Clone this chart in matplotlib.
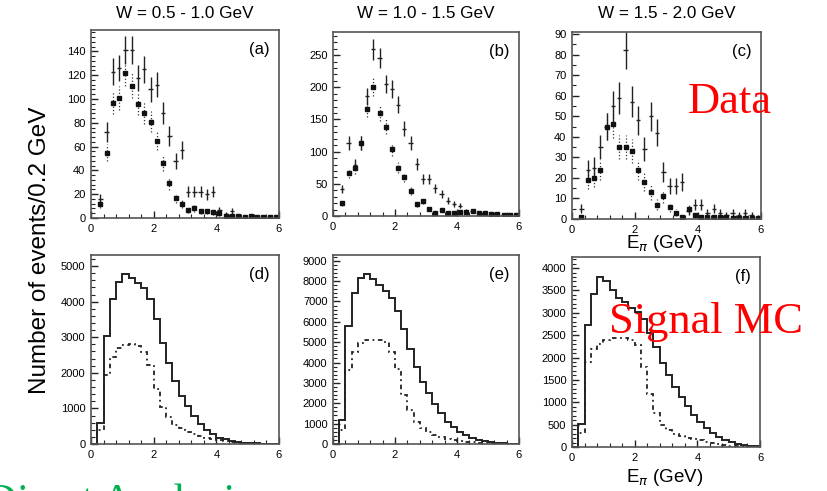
import numpy as np
import matplotlib
matplotlib.use("Agg")
import matplotlib.pyplot as plt
from matplotlib.ticker import MultipleLocator, AutoMinorLocator

plt.rcParams['font.family'] = ['Liberation Sans', 'DejaVu Sans']

# E_pi bin centres (data) and bin edges (MC), GeV
centers = np.arange(0.3, 6.0, 0.2)
edges = np.arange(0.0, 6.01, 0.2)

titles = ['W = 0.5 - 1.0 GeV', 'W = 1.0 - 1.5 GeV', 'W = 1.5 - 2.0 GeV']

# data (crosses) and squares, events / 0.2 GeV
data_a = [16, 72, 123, 126, 141, 141, 118, 125, 108, 112, 88, 69, 48, 57, 22,
          22, 22, 20, 22, 7, 3, 6, 2, 1, 1, 1, 1, 1, 0]
sq_a = [12, 55, 97, 101, 122, 111, 96, 88, 81, 65, 46, 29, 17, 12, 7,
        8, 6, 6, 5, 4, 2, 2, 1.5, 1, 1.5, 1, 1, 1, 0.5]
data_b = [42, 114, 80, 114, 186, 259, 246, 205, 198, 173, 136, 114, 81, 57, 57,
          43, 34, 24, 19, 16, 8, 8, 5, 3, 3, 2, 2, 1, 1]
sq_b = [20, 67, 74, 114, 167, 200, 160, 139, 104, 75, 60, 39, 19, 23, 11,
        5, 9, 5, 5, 6, 6, 8, 5, 4, 3, 3, 2, 2, 2]
data_c = [5, 24, 25, 35, 45, 55, 59, 82, 57, 48, 34, 50, 42, 23, 16,
          16, 18, 4, 7, 7, 3, 5, 3, 2, 3, 2, 3, 2, 1]
sq_c = [1, 19, 20, 24, 45, 46, 35, 35, 33, 24, 18, 13, 7, 11, 6,
        3, 1, 5, 2, 1, 1, 1, 1, 1, 0.5, 0.5, 0.5, 0.5, 0.5]

# signal MC histograms (solid / dashed)
mc_d = [0, 580, 3040, 4060, 4560, 4770, 4670, 4530, 4390, 4060, 3510, 2830, 2280,
        1770, 1360, 1070, 800, 550, 390, 270, 180, 130, 80, 55, 35, 20, 15, 10, 5, 3]
mcd_d = [0, 390, 1940, 2450, 2690, 2780, 2810, 2750, 2590, 2220, 1540, 1050, 770,
         530, 440, 350, 280, 225, 180, 140, 110, 80, 60, 40, 25, 15, 10, 6, 4, 2]
mc_e = [0, 1180, 5790, 7400, 8170, 8330, 8080, 7810, 7530, 7150, 6550, 5630, 4650,
        3800, 3060, 2490, 1960, 1540, 1100, 820, 600, 440, 310, 200, 130, 80, 50, 30, 20, 10]
mcd_e = [0, 690, 3630, 4530, 4940, 5100, 5100, 5100, 4990, 4530, 3680, 2400, 1670,
         1100, 770, 570, 440, 330, 250, 200, 150, 110, 80, 50, 30, 20, 10, 6, 3, 1]
mc_f = [0, 520, 2720, 3420, 3790, 3720, 3520, 3340, 3250, 3110, 3020, 2860, 2540,
        2240, 1870, 1600, 1340, 1120, 920, 720, 560, 430, 310, 220, 150, 110, 75, 50, 30, 15]
mcd_f = [0, 310, 1900, 2180, 2310, 2390, 2430, 2440, 2430, 2390, 2280, 1790, 1190,
         750, 490, 370, 300, 250, 210, 170, 150, 120, 90, 70, 50, 30, 20, 12, 6, 3]

W, H = 827, 491
fig = plt.figure(figsize=(W / 100, H / 100), dpi=100)


def px_axes(x0, y0, x1, y1):
    return fig.add_axes([x0 / W, 1 - y1 / H, (x1 - x0) / W, (y1 - y0) / H])


def style(ax, ymax, ymaj, yminor, label):
    ax.set_xlim(0, 6)
    ax.set_ylim(0, ymax)
    ax.xaxis.set_major_locator(MultipleLocator(2))
    ax.xaxis.set_minor_locator(MultipleLocator(0.4))
    ax.yaxis.set_major_locator(MultipleLocator(ymaj))
    ax.yaxis.set_minor_locator(AutoMinorLocator(yminor))
    ax.tick_params(which='both', direction='in', top=False, right=False,
                   labelsize=8, pad=4, color='#222222')
    ax.tick_params(which='major', length=5, width=1)
    ax.tick_params(which='minor', length=3, width=0.8)
    for s in ax.spines.values():
        s.set_color('#555555')
        s.set_linewidth(1.2)
    ax.text(0.95, 0.935, label, transform=ax.transAxes, ha='right', va='top',
            fontsize=12)


upper = [(91, 30, 279, 218, 158, 20, 5, data_a, sq_a, '(a)'),
         (333, 32, 519, 216, 286, 50, 5, data_b, sq_b, '(b)'),
         (572, 32, 761, 219, 91, 10, 2, data_c, sq_c, '(c)')]

for i, (x0, y0, x1, y1, ymax, maj, mnr, dat, sq, lab) in enumerate(upper):
    ax = px_axes(x0, y0, x1, y1)
    sq = np.array(sq, dtype=float)
    dat = np.array(dat, dtype=float)
    eb = ax.errorbar(centers, sq, yerr=np.sqrt(sq), fmt='s', color='#111111',
                     ms=3.2, elinewidth=0.9, capsize=0, ecolor='#333333')
    eb[2][0].set_linestyle(':')
    ax.errorbar(centers, dat, yerr=np.sqrt(dat), xerr=0.07, fmt='none',
                ecolor='#222222', elinewidth=1.0, capsize=0)
    style(ax, ymax, maj, mnr, lab)
    fig.text((x0 + x1) / 2 / W, 1 - 14 / H, titles[i], ha='center',
             va='center', fontsize=12.3)

lower = [(91, 255, 279, 444, 5310, 1000, 5, mc_d, mcd_d, '(d)'),
         (333, 255, 519, 444, 9280, 1000, 5, mc_e, mcd_e, '(e)'),
         (572, 257, 760, 447, 4247, 500, 5, mc_f, mcd_f, '(f)')]

for x0, y0, x1, y1, ymax, maj, mnr, solid, dashed, lab in lower:
    ax = px_axes(x0, y0, x1, y1)
    ax.stairs(solid, edges, color='#222222', lw=1.4)
    ax.stairs(dashed, edges, color='#222222', lw=1.3,
              linestyle=(0, (2.5, 2, 1, 2)))
    style(ax, ymax, maj, mnr, lab)

fig.text(40 / W, 1 - 250 / H, 'Number of events/0.2 GeV', rotation=90,
         ha='center', va='center', fontsize=17.5)
fig.text(665 / W, 1 - 244 / H, r'E$_\pi$ (GeV)', ha='center', va='center',
         fontsize=13.5)
fig.text(665 / W, 1 - 478 / H, r'E$_\pi$ (GeV)', ha='center', va='center',
         fontsize=13.5)

fig.text(730 / W, 1 - 102 / H, 'Data', color='red', ha='center', va='center',
         fontsize=32, family='Liberation Serif')
fig.text(706 / W, 1 - 322 / H, 'Signal MC', color='red', ha='center',
         va='center', fontsize=32, family='Liberation Serif')
fig.text(-14 / W, 1 - 513 / H, 'Direct Analysis', color='#00b04f', ha='left',
         va='baseline', fontsize=31, family='Liberation Serif')

fig.savefig('out.png', dpi=100)
